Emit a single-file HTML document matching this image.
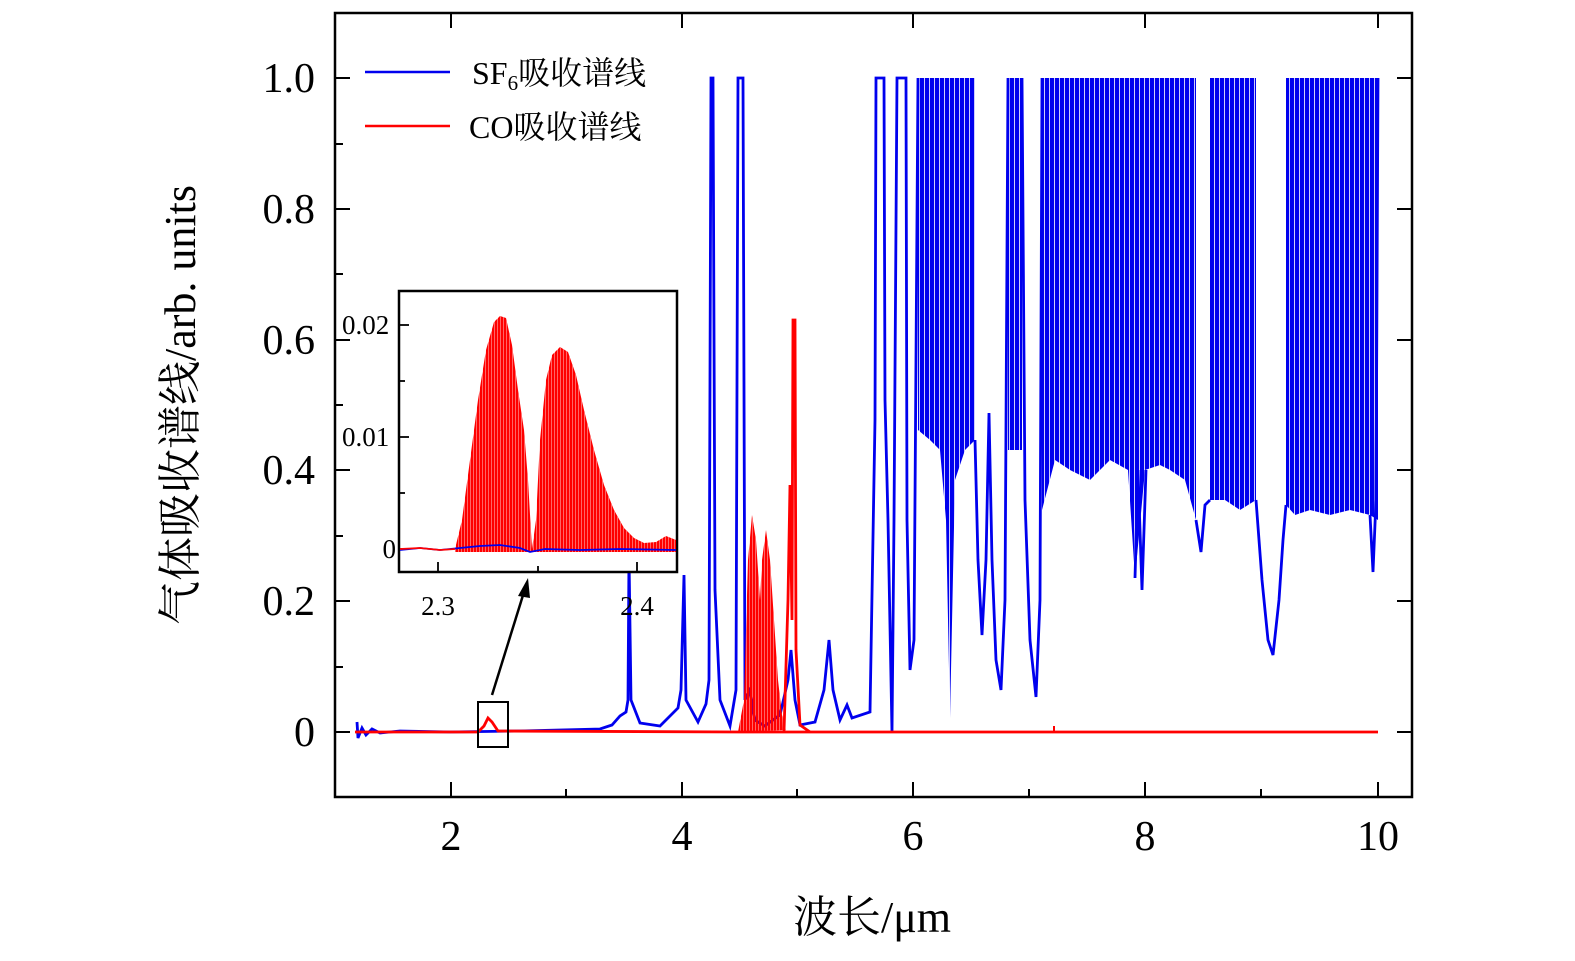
<!DOCTYPE html>
<html><head><meta charset="utf-8"><style>
html,body{margin:0;padding:0;background:#fff;}
svg{display:block;}
text{font-family:"Liberation Serif","Noto Serif CJK SC",serif;fill:#000;}
</style></head><body>
<svg width="1575" height="961" viewBox="0 0 1575 961" xmlns="http://www.w3.org/2000/svg">
<defs>
<pattern id="bs" width="5" height="10" patternUnits="userSpaceOnUse"><rect x="0" y="0" width="4.2" height="10" fill="#0000ee"/></pattern>
<pattern id="rs" width="3" height="10" patternUnits="userSpaceOnUse"><rect x="0" y="0" width="2.6" height="10" fill="#ff0000"/></pattern>
</defs>
<rect x="335" y="13" width="1077" height="784" fill="none" stroke="#000" stroke-width="2.5"/>
<g stroke="#000" stroke-width="2">
<line x1="335" y1="732" x2="350" y2="732"/><line x1="335" y1="601" x2="350" y2="601"/><line x1="335" y1="470" x2="350" y2="470"/><line x1="335" y1="340" x2="350" y2="340"/><line x1="335" y1="209" x2="350" y2="209"/><line x1="335" y1="78" x2="350" y2="78"/>
<line x1="335" y1="797" x2="343" y2="797"/><line x1="335" y1="667" x2="343" y2="667"/><line x1="335" y1="536" x2="343" y2="536"/><line x1="335" y1="405" x2="343" y2="405"/><line x1="335" y1="274" x2="343" y2="274"/><line x1="335" y1="144" x2="343" y2="144"/><line x1="335" y1="13" x2="343" y2="13"/>
<line x1="1412" y1="732" x2="1397" y2="732"/><line x1="1412" y1="601" x2="1397" y2="601"/><line x1="1412" y1="470" x2="1397" y2="470"/><line x1="1412" y1="340" x2="1397" y2="340"/><line x1="1412" y1="209" x2="1397" y2="209"/><line x1="1412" y1="78" x2="1397" y2="78"/>
<line x1="451" y1="797" x2="451" y2="782"/><line x1="682" y1="797" x2="682" y2="782"/><line x1="913" y1="797" x2="913" y2="782"/><line x1="1145" y1="797" x2="1145" y2="782"/><line x1="1378" y1="797" x2="1378" y2="782"/>
<line x1="566" y1="797" x2="566" y2="789"/><line x1="797" y1="797" x2="797" y2="789"/><line x1="1029" y1="797" x2="1029" y2="789"/><line x1="1261" y1="797" x2="1261" y2="789"/>
<line x1="451" y1="13" x2="451" y2="28"/><line x1="682" y1="13" x2="682" y2="28"/><line x1="913" y1="13" x2="913" y2="28"/><line x1="1145" y1="13" x2="1145" y2="28"/><line x1="1378" y1="13" x2="1378" y2="28"/>
</g>
<g font-size="42" text-anchor="end">
<text x="315" y="746">0</text><text x="315" y="615">0.2</text><text x="315" y="484">0.4</text><text x="315" y="354">0.6</text><text x="315" y="223">0.8</text><text x="315" y="92">1.0</text>
</g>
<g font-size="42" text-anchor="middle">
<text x="451" y="850">2</text><text x="682" y="850">4</text><text x="913" y="850">6</text><text x="1145" y="850">8</text><text x="1378" y="850">10</text>
</g>
<text x="872" y="932" font-size="44" text-anchor="middle">波长/μm</text>
<text transform="translate(195,405) rotate(-90)" font-size="44" text-anchor="middle">气体吸收谱线/arb. units</text>

<g fill="url(#bs)">
<polygon points="918,78 975,78 975,440 965,450 955,480 950,718 946,520 940,450 930,440 918,430"/>
<polygon points="1008,78 1022,78 1022,450 1008,450"/>
<polygon points="1042,78 1196,78 1196,520 1185,480 1170,470 1160,465 1145,470 1135,578 1128,470 1110,460 1090,480 1070,470 1055,460 1042,510"/>
<polygon points="1210,78 1256,78 1256,500 1240,510 1225,500 1210,500"/>
<polygon points="1286,78 1378,78 1378,520 1370,515 1350,510 1330,515 1310,510 1295,515 1286,505"/>
</g>
<g fill="none" stroke="#0000ee" stroke-width="2.8">
<polyline points="357,722 358,738 362,728 366,735 372,729 380,733 400,731 450,732 520,731 560,730 600,729 612,725 620,716 626,712 628,700 629,555 631,700 640,723 660,726 678,708 681,690 684,575 686,700 698,722 706,704 709,680 711,78 713,78 715,590 720,700 730,726 736,690 738,78 743,78 745,700 750,690 755,720 765,726 780,715 788,680 791,650 795,700 800,725 815,722 824,690 829,640 833,690 840,720 847,705 852,718 870,712 875,420 876,78 884,78 885,400 888,520 892,732 894,520 897,78 906,78 907,520 910,670 914,640 918,78"/>
<polyline points="1135,578 1138,470 1142,590 1146,470"/>
<polyline points="1196,520 1201,552 1205,505 1210,500"/>
<polyline points="975,440 978,560 982,635 986,560 989,413 992,560 996,660 1001,690 1005,600 1008,78"/>
<polyline points="1022,78 1025,500 1030,640 1036,697 1040,600 1042,78"/>
<polyline points="1256,500 1262,580 1268,640 1273,655 1279,600 1283,540 1286,505"/>
<polyline points="1370,515 1373,572 1376,500 1378,78"/>
</g>

<polyline fill="none" stroke="#ff0000" stroke-width="2.8" points="355,732 478,732 484,726 488,718 492,722 498,731 740,732 1378,732"/>
<polygon fill="url(#rs)" points="738,732 744,700 748,560 752,515 756,540 760,600 762,560 766,530 770,560 774,620 778,680 782,715 786,730 738,732"/>
<polyline fill="none" stroke="#ff0000" stroke-width="2.8" points="784,732 788,600 790,485 792,620 793,320 795,320 796,650 800,725 810,732"/>
<line x1="1054" y1="732" x2="1054" y2="726" stroke="#ff0000" stroke-width="2"/>

<rect x="478" y="702" width="30" height="45" fill="none" stroke="#000" stroke-width="2"/>
<line x1="492" y1="695" x2="524" y2="592" stroke="#000" stroke-width="2.5"/>
<polygon points="528,578 518,596 530,598" fill="#000"/>

<rect x="399" y="291" width="278" height="281" fill="#fff" stroke="#000" stroke-width="2.5"/>
<g stroke="#000" stroke-width="1.8">
<line x1="399" y1="549" x2="409" y2="549"/><line x1="399" y1="437" x2="409" y2="437"/><line x1="399" y1="325" x2="409" y2="325"/>
<line x1="399" y1="493" x2="405" y2="493"/><line x1="399" y1="381" x2="405" y2="381"/>
<line x1="438" y1="572" x2="438" y2="562"/><line x1="637" y1="572" x2="637" y2="562"/><line x1="538" y1="572" x2="538" y2="566"/>
</g>
<g font-size="27">
<text x="396" y="558" text-anchor="end">0</text>
<text x="342" y="446">0.01</text>
<text x="342" y="334">0.02</text>
<text x="438" y="615" text-anchor="middle">2.3</text>
<text x="637" y="615" text-anchor="middle">2.4</text>
</g>
<polygon fill="url(#rs)" points="455,549 462,520 470,460 478,400 486,350 494,322 500,316 506,318 512,345 518,390 524,430 528,480 532,549 536,520 540,440 546,380 552,355 560,347 568,352 576,375 584,410 594,450 604,485 614,510 624,528 634,538 644,543 656,542 666,536 676,540 676,552 455,552"/>
<polyline fill="none" stroke="#0000ee" stroke-width="1.8" points="400,550 420,548 440,550 460,548 480,546 500,545 520,548 530,552 545,549 580,550 620,549 676,550"/>
<polyline fill="none" stroke="#ff0000" stroke-width="1.8" points="400,549 420,548 440,550 455,549"/>

<line x1="365" y1="72" x2="450" y2="72" stroke="#0000ee" stroke-width="2.5"/>
<text x="472" y="84" font-size="32">SF<tspan font-size="21" dy="6">6</tspan><tspan dy="-6">吸收谱线</tspan></text>
<line x1="365" y1="126" x2="450" y2="126" stroke="#ff0000" stroke-width="2.5"/>
<text x="469" y="138" font-size="32">CO吸收谱线</text>
</svg>
</body></html>
